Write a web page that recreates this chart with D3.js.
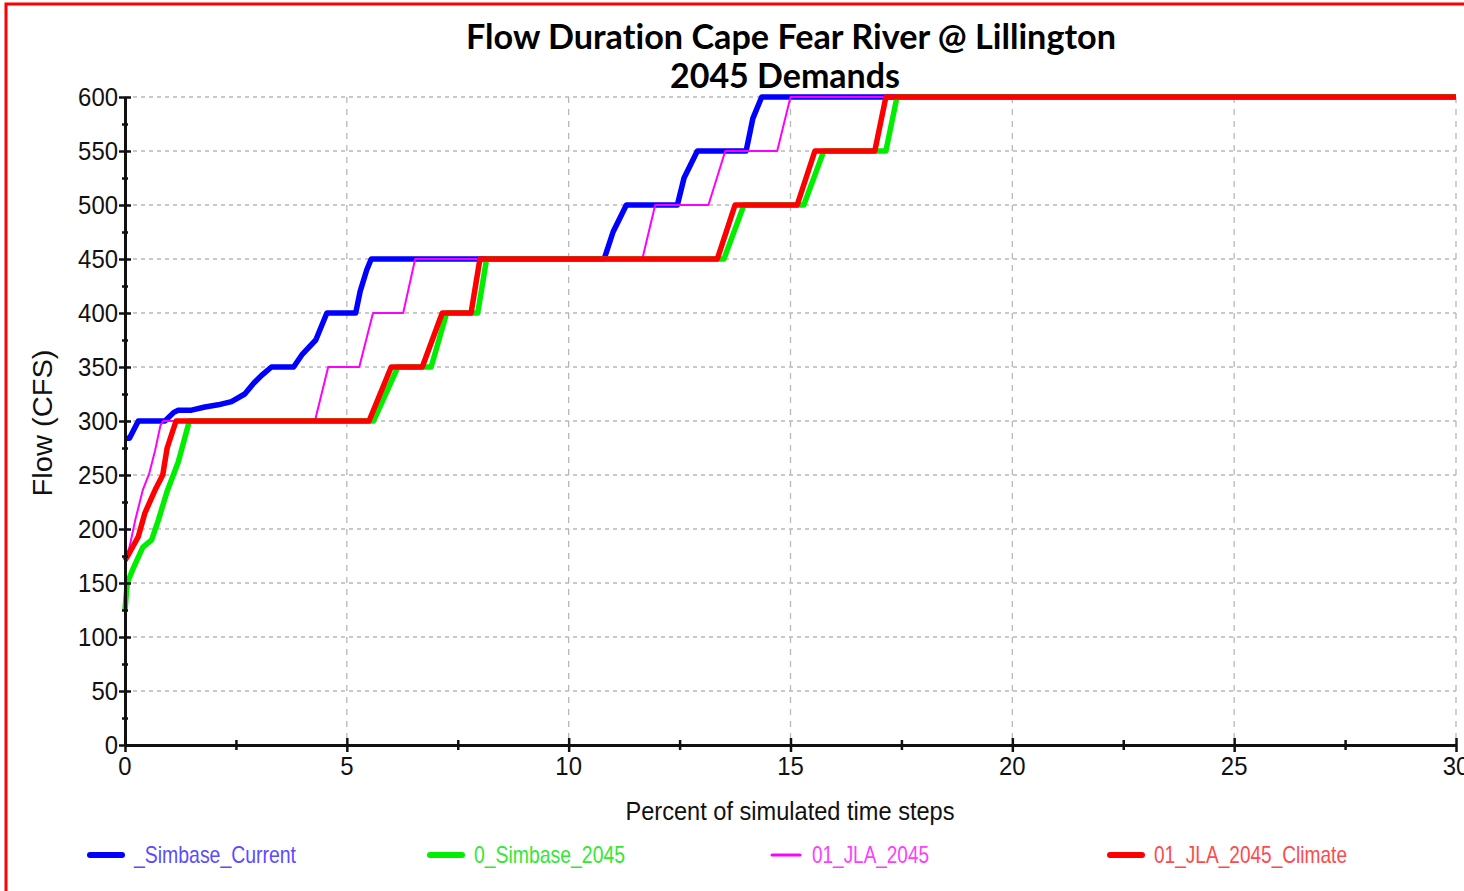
<!DOCTYPE html>
<html>
<head>
<meta charset="utf-8">
<script src="https://cdn.jsdelivr.net/npm/d3@7"></script>
<style>
	html, body { margin: 0; padding: 0; background: #fff; overflow: hidden; }
	#chart { width: 1464px; height: 891px; }
	.tick-label { font-family: "Liberation Sans", Arial, sans-serif; font-size: 25px; fill: #111; }
</style>
</head>
<body>
<div id="chart"></div>
<script>

// ###
// DATA
// ###

const seriesNames = ['_Simbase_Current', '0_Simbase_2045', '01_JLA_2045', '01_JLA_2045_Climate'];

const simbaseCurrentX = [0, 0.1, 0.3, 0.5, 0.9, 1.1, 1.2, 1.5, 1.8, 2.1, 2.4, 2.7, 2.9, 3.1, 3.3, 3.8, 4.0, 4.3, 4.55, 5.2, 5.3, 5.45, 5.55, 10.8, 11.0, 11.3, 12.45, 12.6, 12.9, 14.0, 14.15, 14.35, 30];
const simbaseCurrentY = [284, 284, 300, 300, 300, 308, 310, 310, 313, 315, 318, 325, 335, 343, 350, 350, 362, 375, 400, 400, 420, 440, 450, 450, 475, 500, 500, 525, 550, 550, 580, 600, 600];

const simbase2045X = [0, 0.05, 0.2, 0.4, 0.6, 0.75, 0.95, 1.2, 1.45, 5.6, 6.15, 6.9, 7.25, 7.95, 8.15, 13.5, 13.95, 15.3, 15.75, 17.15, 17.4, 30];
const simbase2045Y = [125, 150, 165, 183, 190, 208, 235, 262, 300, 300, 350, 350, 400, 400, 450, 450, 500, 500, 550, 550, 600, 600];

const jla2045X = [0, 0.1, 0.23, 0.4, 0.55, 0.68, 0.8, 0.86, 4.28, 4.58, 5.28, 5.59, 6.27, 6.54, 11.66, 11.95, 13.15, 13.53, 14.7, 15.0, 30];
const jla2045Y = [172, 183, 208, 236, 252, 273, 296, 300, 300, 350, 350, 400, 400, 450, 450, 500, 500, 550, 550, 600, 600];

const jlaClimateX = [0, 0.1, 0.3, 0.45, 0.7, 0.85, 0.95, 1.15, 5.5, 6.0, 6.7, 7.15, 7.8, 8.0, 13.35, 13.75, 15.15, 15.55, 16.9, 17.15, 30];
const jlaClimateY = [171, 178, 193, 215, 238, 250, 275, 300, 300, 350, 350, 400, 400, 450, 450, 500, 500, 550, 550, 600, 600];

const xTicks = [0, 5, 10, 15, 20, 25, 30];
const yTicks = [0, 50, 100, 150, 200, 250, 300, 350, 400, 450, 500, 550, 600];

// ###
// SETUP
// ###

const 	container = d3.select('#chart'),
		width = 1464,
		height = 891,
		margin = {top: 97, right: 8, bottom: 146, left: 125},
		innerWidth = width - margin.left - margin.right,
		innerHeight = height - margin.top - margin.bottom;

// line colour, legend text colour, stroke width -- drawing order is blue, green, magenta, red
const series = [
	{name: seriesNames[0], x: simbaseCurrentX, y: simbaseCurrentY, color: '#0000ff', text: '#5a4cff', w: 5.5},
	{name: seriesNames[1], x: simbase2045X, y: simbase2045Y, color: '#00ee00', text: '#33e833', w: 5.5},
	{name: seriesNames[2], x: jla2045X, y: jla2045Y, color: '#ff00ff', text: '#ff3cff', w: 2},
	{name: seriesNames[3], x: jlaClimateX, y: jlaClimateY, color: '#ff0000', text: '#ff4a4a', w: 5.5}
];

const xScale = d3.scaleLinear()
	.domain([0, 30])
	.range([0, innerWidth]);

const yScale = d3.scaleLinear()
	.domain([0, 600])
	.range([innerHeight, 0]);

const svg = container.append('svg')
	.attr('width', width)
	.attr('height', height);

// red frame round the whole picture (only left and top show)
svg.append('rect')
	.attr('x', 6).attr('y', 4)
	.attr('width', 1600).attr('height', 1000)
	.style('fill', 'none')
	.style('stroke', '#ff0000')
	.style('stroke-width', 3);

const chartInner = svg.append('g')
	.attr('transform', `translate(${margin.left}, ${margin.top})`);

// ###
// GRID
// ###

const grid = chartInner.append('g').classed('grid', true);

grid.selectAll('.h-grid')
	.data(yTicks.filter(d => d > 0))
	.enter()
	.append('line')
	.attr('x1', 0).attr('x2', innerWidth)
	.attr('y1', d => yScale(d)).attr('y2', d => yScale(d))
	.style('stroke', '#b8b8b8')
	.style('stroke-width', 1.3)
	.style('stroke-dasharray', '4,4');

grid.selectAll('.v-grid')
	.data(xTicks.filter(d => d > 0))
	.enter()
	.append('line')
	.attr('x1', d => xScale(d)).attr('x2', d => xScale(d))
	.attr('y1', 0).attr('y2', innerHeight)
	.style('stroke', '#b8b8b8')
	.style('stroke-width', 1.3)
	.style('stroke-dasharray', '6,6');

// ###
// LINES
// ###

const flowLine = d3.line()
	.x(d => xScale(d[0]))
	.y(d => yScale(d[1]));

chartInner.selectAll('.flow')
	.data(series)
	.enter()
	.append('path')
	.classed('flow', true)
	.attr('d', s => flowLine(s.x.map((v, i) => [v, s.y[i]])))
	.style('fill', 'none')
	.style('stroke', s => s.color)
	.style('stroke-width', s => s.w)
	.style('stroke-linejoin', 'round');

// ###
// AXES
// ###

const yAxis = d3.axisLeft(yScale)
	.tickValues(d3.range(0, 601, 25))
	.tickSize(0)
	.tickFormat('');

const xAxis = d3.axisBottom(xScale)
	.tickValues(d3.range(0, 30.1, 2.5))
	.tickSize(0)
	.tickFormat('');

const yAxisG = chartInner.append('g').call(yAxis);
const xAxisG = chartInner.append('g').attr('transform', `translate(0,${innerHeight})`).call(xAxis);

yAxisG.select('.domain').style('stroke', '#111').style('stroke-width', 3);
xAxisG.select('.domain').style('stroke', '#111').style('stroke-width', 3);

// tick marks crossing the axis lines, major ones a bit longer
yAxisG.selectAll('.tick line')
	.attr('x1', d => d % 50 === 0 ? -6 : -3)
	.attr('x2', d => d % 50 === 0 ? 6 : 3)
	.style('stroke', '#111')
	.style('stroke-width', 2.5);

xAxisG.selectAll('.tick line')
	.attr('y1', d => d % 5 === 0 ? -7 : -5)
	.attr('y2', d => d % 5 === 0 ? 7 : 5)
	.style('stroke', '#111')
	.style('stroke-width', 2.5);

chartInner.selectAll('.y-label')
	.data(yTicks)
	.enter()
	.append('text')
	.attr('class', 'tick-label')
	.attr('x', -7)
	.attr('y', d => yScale(d))
	.attr('dy', '0.36em')
	.attr('text-anchor', 'end')
	.attr('textLength', d => String(d).length * 13.3)
	.attr('lengthAdjust', 'spacingAndGlyphs')
	.text(d => d);

chartInner.selectAll('.x-label')
	.data(xTicks)
	.enter()
	.append('text')
	.attr('class', 'tick-label')
	.attr('x', d => xScale(d))
	.attr('y', innerHeight + 30)
	.attr('text-anchor', 'middle')
	.attr('textLength', d => String(d).length * 13.3)
	.attr('lengthAdjust', 'spacingAndGlyphs')
	.text(d => d);

// axis titles
svg.append('text')
	.attr('x', 790)
	.attr('y', 820)
	.attr('text-anchor', 'middle')
	.attr('textLength', 329)
	.attr('lengthAdjust', 'spacingAndGlyphs')
	.style('font-family', '"Liberation Sans", Arial, sans-serif')
	.style('font-size', '26px')
	.style('fill', '#111')
	.text('Percent of simulated time steps');

svg.append('text')
	.attr('transform', 'translate(52, 423) rotate(-90)')
	.attr('text-anchor', 'middle')
	.attr('textLength', 147)
	.attr('lengthAdjust', 'spacingAndGlyphs')
	.style('font-family', '"Liberation Sans", Arial, sans-serif')
	.style('font-size', '27px')
	.style('fill', '#111')
	.text('Flow (CFS)');

// ###
// TITLE
// ###

const title = svg.append('text')
	.attr('text-anchor', 'middle')
	.style('font-family', 'Lato, "Open Sans", sans-serif')
	.style('font-weight', 'bold')
	.style('font-size', '34px')
	.style('font-variant-ligatures', 'none')
	.style('fill', '#000');

title.append('tspan').attr('x', 791).attr('y', 49)
	.attr('textLength', 650).attr('lengthAdjust', 'spacingAndGlyphs')
	.text('Flow Duration Cape Fear River @ Lillington');
title.append('tspan').attr('x', 785).attr('y', 88).text('2045 Demands');

// ###
// LEGEND
// ###

const legendX = [90, 430, 772, 1110];
const legendTextWidth = [162, 151, 117, 193];

const legend = svg.selectAll('.legend-item')
	.data(series)
	.enter()
	.append('g')
	.classed('legend-item', true)
	.attr('transform', (d, i) => `translate(${legendX[i]}, 855)`);

legend.append('line')
	.attr('x1', 0).attr('x2', (d, i) => i === 2 ? 28 : 32)
	.attr('y1', 0).attr('y2', 0)
	.style('stroke', d => d.color)
	.style('stroke-width', d => d.w === 2 ? 3 : 6)
	.style('stroke-linecap', 'round');

legend.append('text')
	.attr('x', (d, i) => i === 2 ? 40 : 44)
	.attr('y', 0)
	.attr('dy', '0.35em')
	.attr('textLength', (d, i) => legendTextWidth[i])
	.attr('lengthAdjust', 'spacingAndGlyphs')
	.style('font-family', '"Liberation Sans", Arial, sans-serif')
	.style('font-size', '24px')
	.style('fill', d => d.text)
	.text(d => d.name);

</script>
</body>
</html>
